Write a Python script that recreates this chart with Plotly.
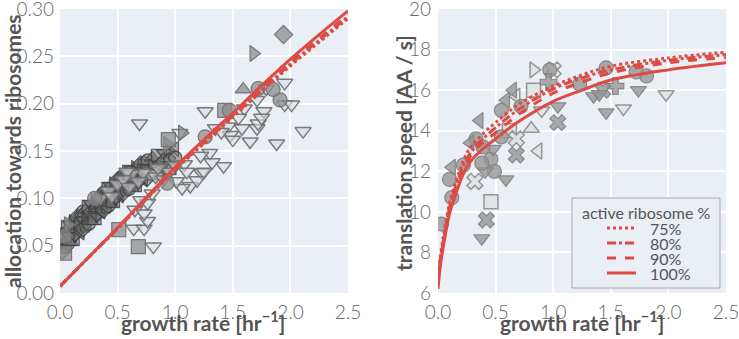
import plotly.graph_objects as go
from plotly.subplots import make_subplots

# ---------------- data ----------------
growth_left = [0.0, 0.25, 0.5, 0.75, 1.0, 1.25, 1.5, 1.75, 2.0, 2.25, 2.5]
alloc_100 = [0.007, 0.038, 0.069, 0.101, 0.133, 0.162, 0.190, 0.219, 0.247, 0.273, 0.298]
alloc_90 = [0.007, 0.038, 0.069, 0.100, 0.132, 0.160, 0.188, 0.216, 0.244, 0.269, 0.294]
alloc_80 = [0.007, 0.038, 0.068, 0.100, 0.131, 0.159, 0.187, 0.214, 0.242, 0.267, 0.292]
alloc_75 = [0.007, 0.038, 0.068, 0.099, 0.130, 0.158, 0.186, 0.213, 0.240, 0.265, 0.290]

growth_right = [0.0, 0.02, 0.05, 0.1, 0.15, 0.2, 0.25, 0.3, 0.4, 0.5, 0.7, 1.0, 1.25, 1.5, 2.0, 2.5]
speed_100 = [6.2, 7.3, 8.4, 9.9, 10.8, 11.6, 12.2, 12.6, 13.15, 13.6, 14.45, 15.45, 16.0, 16.5, 17.0, 17.35]
speed_90 = [6.4, 7.5, 8.6, 10.1, 11.0, 11.8, 12.4, 12.9, 13.45, 13.9, 14.8, 15.85, 16.4, 16.85, 17.35, 17.6]
speed_80 = [6.5, 7.6, 8.7, 10.2, 11.2, 12.0, 12.6, 13.05, 13.65, 14.15, 15.05, 16.05, 16.6, 17.0, 17.47, 17.75]
speed_75 = [6.6, 7.7, 8.9, 10.4, 11.4, 12.2, 12.9, 13.3, 13.9, 14.4, 15.3, 16.2, 16.75, 17.18, 17.59, 17.87]

legend_title = "active ribosome %"
legend_labels = ["75%", "80%", "90%", "100%"]

x_ticks = [0.0, 0.5, 1.0, 1.5, 2.0, 2.5]
left_y_ticks = [0.00, 0.05, 0.10, 0.15, 0.20, 0.25, 0.30]
right_y_ticks = [6, 8, 10, 12, 14, 16, 18, 20]

# left panel scatter: dense cloud of filled markers
cloud_x = [0.02, 0.05, 0.07, 0.09, 0.11, 0.13, 0.15, 0.18, 0.20, 0.22, 0.25, 0.27, 0.30,
           0.32, 0.34, 0.36, 0.38, 0.40, 0.42, 0.44, 0.46, 0.48, 0.50, 0.52, 0.55, 0.57,
           0.60, 0.62, 0.65, 0.68, 0.70, 0.73, 0.76, 0.80, 0.85, 0.90, 0.95, 1.00]
cloud_upper = [0.062, 0.066, 0.070, 0.072, 0.075, 0.078, 0.080, 0.082, 0.086, 0.088, 0.091,
               0.094, 0.097, 0.099, 0.101, 0.104, 0.106, 0.108, 0.110, 0.113, 0.115, 0.117,
               0.119, 0.121, 0.124, 0.126, 0.128, 0.130, 0.132, 0.134, 0.136, 0.138, 0.140,
               0.143, 0.145, 0.148, 0.150, 0.152]
cloud_mid = [0.053, 0.057, 0.061, 0.063, 0.066, 0.069, 0.071, 0.073, 0.077, 0.079, 0.082,
             0.085, 0.088, 0.090, 0.092, 0.095, 0.097, 0.099, 0.101, 0.104, 0.106, 0.108,
             0.110, 0.112, 0.115, 0.117, 0.119, 0.121, 0.123, 0.125, 0.127, 0.129, 0.131,
             0.134, 0.136, 0.139, 0.141, 0.143]
cloud_lower = [0.044, 0.048, 0.052, 0.054, 0.057, 0.060, 0.062, 0.064, 0.068, 0.070, 0.073,
               0.076, 0.079, 0.081, 0.083, 0.086, 0.088, 0.090, 0.092, 0.095, 0.097, 0.099,
               0.101, 0.103, 0.106, 0.108, 0.110, 0.112, 0.114, 0.116, 0.118, 0.120, 0.122,
               0.125, 0.127, 0.130, 0.132, 0.134]

# left panel: open downward triangles
opentri_x = [0.69, 1.04, 1.26, 1.35, 1.46, 1.48, 1.50, 1.58, 1.65, 1.71, 1.72, 1.77, 1.88,
             1.95, 1.95, 2.01, 2.11, 1.79, 1.71, 1.42, 1.30, 1.22, 1.23, 1.13, 1.06, 1.01,
             1.19, 1.25, 1.32, 1.08, 0.81, 0.64, 0.73, 0.76, 0.65, 0.73, 0.76, 0.70, 0.80,
             0.78, 0.72, 0.83, 0.62, 0.58, 0.90, 0.95, 1.00, 1.10, 1.40, 1.60, 1.75, 1.55,
             0.35, 0.42, 0.50, 0.55, 0.45, 0.60, 0.68, 0.85]
opentri_y = [0.179, 0.169, 0.192, 0.174, 0.176, 0.167, 0.162, 0.174, 0.160, 0.174, 0.179,
             0.192, 0.158, 0.222, 0.199, 0.199, 0.171, 0.216, 0.204, 0.134, 0.148, 0.145,
             0.127, 0.113, 0.111, 0.118, 0.119, 0.128, 0.138, 0.136, 0.049, 0.068, 0.068,
             0.076, 0.088, 0.084, 0.095, 0.098, 0.105, 0.126, 0.127, 0.123, 0.126, 0.128,
             0.120, 0.128, 0.135, 0.128, 0.170, 0.195, 0.185, 0.185,
             0.100, 0.108, 0.115, 0.120, 0.102, 0.112, 0.118, 0.132]

# left panel: individual filled markers
solo_x = [1.94, 1.68, 1.06, 0.93, 0.94, 0.68, 0.51, 0.04, 1.43, 0.30, 0.04, 0.07, 1.26,
          1.91, 1.85, 1.47, 1.59, 0.93, 1.72]
solo_y = [0.273, 0.253, 0.169, 0.157, 0.162, 0.049, 0.067, 0.042, 0.193, 0.100, 0.060,
          0.072, 0.165, 0.204, 0.215, 0.193, 0.215, 0.116, 0.216]
solo_sym = ["diamond", "triangle-right", "triangle-right", "triangle-right", "square",
            "square", "square", "square", "square", "circle", "circle", "triangle-right",
            "circle", "circle", "circle", "circle", "triangle-up", "circle", "circle"]

# right panel scatter
r_dark_x = [0.97, 0.96, 0.65, 0.36, 0.33, 0.22, 0.10, 0.12, 0.03, 0.38, 0.42, 0.59, 0.49,
            0.41, 0.46, 0.48, 0.55, 0.68, 1.04, 1.04, 1.35, 1.46, 1.74, 1.54, 1.43, 1.46,
            1.81, 1.72, 1.40, 1.23, 0.72, 0.39, 0.38, 0.28, 0.59, 0.55, 0.12]
r_dark_y = [17.0, 16.4, 16.0, 14.5, 13.6, 12.3, 11.6, 10.7, 9.4, 8.7, 9.6, 11.6, 12.0,
            12.0, 12.6, 13.1, 13.7, 12.8, 14.4, 15.2, 15.7, 14.9, 16.0, 16.2, 16.0, 17.1,
            16.7, 16.9, 15.8, 16.3, 15.2, 13.2, 12.4, 13.4, 15.5, 15.0, 12.2]
r_dark_sym = ["circle", "cross", "triangle-left", "triangle-left", "circle", "circle",
              "circle", "circle", "circle", "triangle-down", "x", "triangle-down", "circle",
              "triangle-down", "circle", "triangle-down", "circle", "x", "x",
              "triangle-down", "triangle-down", "triangle-down", "triangle-down", "cross",
              "x", "circle", "circle", "circle", "triangle-down", "circle", "circle",
              "circle", "circle", "triangle-left", "triangle-left", "circle",
              "triangle-left"]
r_light_x = [0.83, 1.00, 0.83, 0.46, 0.32, 0.62, 0.68, 0.81, 0.87, 1.61, 1.98, 0.90, 0.68]
r_light_y = [17.0, 17.0, 16.0, 10.5, 11.5, 14.0, 13.6, 14.1, 13.0, 15.1, 15.8, 15.0, 15.7]
r_light_sym = ["triangle-right", "x", "square", "square", "x", "square", "x",
               "triangle-up", "triangle-left", "triangle-down", "triangle-down",
               "triangle-down", "triangle-left"]

# ---------------- style ----------------
RED = "#DD4B45"
BG = "#EAEEF5"
dashes = ["dot", "dashdot", "dash", "solid"]
FONT = "Lato"
W, H = 739, 339
ML, MR, MT, MB = 60, 13, 9, 46
PW, PH = W - ML - MR, H - MT - MB


def px(xpix):
    return (xpix - ML) / PW


def py(ypix):
    return (H - MB - ypix) / PH


fig = make_subplots(rows=1, cols=2, horizontal_spacing=0.135)

cloud_syms = ["circle", "triangle-up", "square", "triangle-down", "triangle-right",
              "triangle-left", "diamond", "pentagon"]
for k, ys in enumerate([cloud_upper, cloud_mid, cloud_lower]):
    syms = [cloud_syms[(i + 3 * k) % len(cloud_syms)] for i in range(len(cloud_x))]
    fig.add_trace(go.Scatter(
        x=cloud_x, y=ys, mode="markers", showlegend=False,
        marker=dict(symbol=syms, size=13, color="rgba(110,110,110,0.55)",
                    line=dict(color="rgba(60,60,60,0.8)", width=1.2))), 1, 1)

fig.add_trace(go.Scatter(
    x=opentri_x, y=opentri_y, mode="markers", showlegend=False,
    marker=dict(symbol="triangle-down", size=14, color="rgba(215,218,224,0.55)",
                line=dict(color="rgba(110,110,110,0.9)", width=1.5))), 1, 1)

fig.add_trace(go.Scatter(
    x=solo_x, y=solo_y, mode="markers", showlegend=False,
    marker=dict(symbol=solo_sym, size=14, color="rgba(140,140,140,0.75)",
                line=dict(color="rgba(110,110,110,0.9)", width=1.2))), 1, 1)

for ys, d in zip([alloc_75, alloc_80, alloc_90, alloc_100], dashes):
    fig.add_trace(go.Scatter(x=growth_left, y=ys, mode="lines", showlegend=False,
                             line=dict(color=RED, width=3, dash=d, shape="spline")), 1, 1)

fig.add_trace(go.Scatter(
    x=r_light_x, y=r_light_y, mode="markers", showlegend=False,
    marker=dict(symbol=r_light_sym, size=14, color="rgba(225,225,225,0.85)",
                line=dict(color="rgba(140,140,140,0.9)", width=1.5))), 1, 2)
fig.add_trace(go.Scatter(
    x=r_dark_x, y=r_dark_y, mode="markers", showlegend=False,
    marker=dict(symbol=r_dark_sym, size=14, color="rgba(150,150,150,0.8)",
                line=dict(color="rgba(130,130,130,0.9)", width=1.2))), 1, 2)

for ys, d, lab in zip([speed_75, speed_80, speed_90, speed_100], dashes, legend_labels):
    fig.add_trace(go.Scatter(x=growth_right, y=ys, mode="lines", name=lab, showlegend=False,
                             line=dict(color=RED, width=3, dash=d, shape="spline")), 1, 2)

tickfont = dict(family=FONT, size=19, color="#666666", weight=300)
titlefont = dict(family=FONT, size=21, color="#555555", weight="bold")
axis_common = dict(showgrid=True, gridcolor="white", gridwidth=1.5, zeroline=False,
                   showline=False, ticks="", tickfont=tickfont, ticklabeloverflow="allow",
                   automargin=False)

fig.update_xaxes(range=[0, 2.5], tickvals=x_ticks, ticktext=[f"{v:.1f}" for v in x_ticks],
                 ticklabelstandoff=6, **axis_common)
fig.update_yaxes(range=[0, 0.30], tickvals=left_y_ticks,
                 ticktext=[f"{v:.2f}" for v in left_y_ticks], ticklabelstandoff=5,
                 row=1, col=1, **axis_common)
fig.update_yaxes(range=[6, 20], tickvals=right_y_ticks,
                 ticktext=[str(v) for v in right_y_ticks], ticklabelstandoff=6,
                 row=1, col=2, **axis_common)

# axis titles
annotations = [
    dict(text="growth rate [hr<sup>−1</sup>]", x=px(203), y=py(321), xref="paper", yref="paper",
         xanchor="center", yanchor="middle", showarrow=False, font=titlefont),
    dict(text="growth rate [hr<sup>−1</sup>]", x=px(582), y=py(321), xref="paper", yref="paper",
         xanchor="center", yanchor="middle", showarrow=False, font=titlefont),
    dict(text="allocation towards ribosomes", x=px(12), y=py(151), xref="paper", yref="paper",
         xanchor="center", yanchor="middle", textangle=-90, showarrow=False, font=titlefont),
    dict(text="translation speed [AA / s]", x=px(403), y=py(153), xref="paper", yref="paper",
         xanchor="center", yanchor="middle", textangle=-90, showarrow=False, font=titlefont),
]

# legend (drawn as box, line samples and labels)
legfont = dict(family=FONT, size=16, color="#555555")
shapes = [dict(type="rect", xref="paper", yref="paper", x0=px(572), x1=px(720),
               y0=py(288), y1=py(198), line=dict(color="#A8A8A8", width=1), fillcolor=BG,
               layer="above")]
annotations.append(dict(text=legend_title, x=px(646), y=py(212), xref="paper", yref="paper",
                        xanchor="center", yanchor="middle", showarrow=False, font=legfont))
row_y = [228, 243, 258, 273]
for lab, d, ry in zip(legend_labels, dashes, row_y):
    shapes.append(dict(type="line", xref="paper", yref="paper", x0=px(607), x1=px(636),
                       y0=py(ry), y1=py(ry), line=dict(color=RED, width=3, dash=d),
                       layer="above"))
    annotations.append(dict(text=lab, x=px(648), y=py(ry), xref="paper", yref="paper",
                            xanchor="left", yanchor="middle", showarrow=False, font=legfont))

fig.update_layout(
    width=W, height=H,
    margin=dict(l=ML, r=MR, t=MT, b=MB),
    paper_bgcolor="white", plot_bgcolor=BG,
    font=dict(family=FONT, color="#555555"),
    showlegend=False,
    annotations=annotations,
    shapes=shapes,
)

fig.write_html("out.html", config={"displayModeBar": False},
               post_script="document.body.style.margin='0';")
